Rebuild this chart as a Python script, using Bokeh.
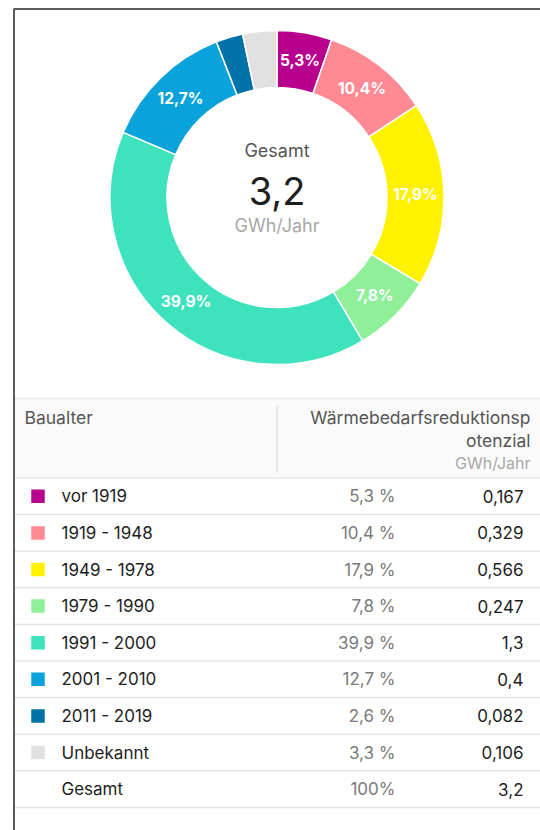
import math
from bokeh.plotting import figure
from bokeh.models import Range1d, ColumnDataSource
from bokeh.core.properties import value
from bokeh.embed import file_html
from bokeh.resources import INLINE

# ---- data ----
categories = ["vor 1919", "1919 - 1948", "1949 - 1978", "1979 - 1990",
              "1991 - 2000", "2001 - 2010", "2011 - 2019", "Unbekannt"]
shares = [5.3, 10.4, 17.9, 7.8, 39.9, 12.7, 2.6, 3.3]
values = [0.167, 0.329, 0.566, 0.247, 1.3, 0.4, 0.082, 0.106]
colors = ["#b8008f", "#ff8a93", "#fff200", "#90f09a", "#3ee2bd", "#0aa2da", "#0072a8", "#e1e1e1"]
total = 3.2
total_label = "Gesamt"
unit = "GWh/Jahr"
col_header_left = "Baualter"
col_header_right = ["Wärmebedarfsreduktionsp", "otenzial"]

FONT = value("Inter")

def de(v):
    return str(v).replace(".", ",")

W, H = 540, 830
p = figure(width=W, height=H, output_backend="svg", toolbar_location=None,
           x_range=Range1d(0, W), y_range=Range1d(-H, 0),
           min_border=0, outline_line_color=None)
p.axis.visible = False
p.grid.visible = False
p.background_fill_color = "white"

# ---- donut ----
cx, cy = 276.5, -197
r_in, r_out = 110, 167
tot = sum(shares)
starts, ends, mids = [], [], []
c = 0.0
for s in shares:
    a0 = c / tot
    c += s
    a1 = c / tot
    starts.append(math.pi / 2 - 2 * math.pi * a1)
    ends.append(math.pi / 2 - 2 * math.pi * a0)
    mids.append(2 * math.pi * (a0 + a1) / 2)
src = ColumnDataSource(dict(start=starts, end=ends, color=colors))
p.annular_wedge(x=cx, y=cy, inner_radius=r_in, outer_radius=r_out,
                start_angle="start", end_angle="end", fill_color="color",
                line_color="white", line_width=1.5, source=src)

rm = (r_in + r_out) / 2
lx, ly, lt = [], [], []
for s, m in zip(shares, mids):
    if s >= 5:
        lx.append(cx + rm * math.sin(m))
        ly.append(cy + rm * math.cos(m))
        lt.append(de(s) + "%")
p.text(x=lx, y=ly, text=lt, text_color="white", text_font=FONT,
       text_font_style="bold", text_font_size="15.5px",
       text_align="center", text_baseline="middle")

p.text(x=[cx], y=[-150], text=[total_label], text_color="#555555", text_font=FONT,
       text_font_size="18px", text_align="center", text_baseline="middle")
p.text(x=[cx], y=[-190], text=[de(total)], text_color="#1e1e1e", text_font=FONT,
       text_font_size="38px", text_align="center", text_baseline="middle")
p.text(x=[cx], y=[-225], text=[unit], text_color="#a8a8a8", text_font=FONT,
       text_font_size="18px", text_align="center", text_baseline="middle")

# ---- frame ----
p.segment(x0=[13.5], y0=[-8], x1=[13.5], y1=[-H], line_color="#5a5a5a", line_width=2)
p.segment(x0=[13.5], y0=[-8.5], x1=[W], y1=[-8.5], line_color="#5a5a5a", line_width=2)

# ---- table header ----
hy0, hy1 = 398, 477.5
p.quad(left=[14.5], right=[W], top=[-hy0], bottom=[-hy1], fill_color="#fafafa", line_color=None)
p.segment(x0=[14.5, 14.5], y0=[-hy0, -hy1], x1=[W, W], y1=[-hy0, -hy1],
          line_color="#e8e8e8", line_width=1.5)
p.segment(x0=[276.5], y0=[-405], x1=[276.5], y1=[-472], line_color="#e3e3e3", line_width=1.5)
p.text(x=[24], y=[-417], text=[col_header_left], text_color="#555555", text_font=FONT,
       text_font_size="17.5px", text_align="left", text_baseline="middle")
p.text(x=[530, 530], y=[-417, -439.5], text=col_header_right, text_color="#555555", text_font=FONT,
       text_font_size="17.5px", text_align="right", text_baseline="middle")
p.text(x=[530], y=[-462], text=[unit], text_color="#a8a8a8", text_font=FONT,
       text_font_size="16px", text_align="right", text_baseline="middle")

# ---- table rows ----
row_h = 36.6
row_top = hy1
n = len(categories)
names = categories + ["Gesamt"]
pcts = [de(s) + " %" for s in shares] + ["100%"]
vals = [de(v) for v in values] + [de(total)]
ys = [-(row_top + row_h * (i + 0.5)) for i in range(n + 1)]
lines_y = [-(row_top + row_h * (i + 1)) for i in range(n + 1)]
p.segment(x0=[14.5] * len(lines_y), y0=lines_y, x1=[W] * len(lines_y), y1=lines_y,
          line_color="#e6e6e6", line_width=1.5)
p.scatter(x=[37.5] * n, y=ys[:n], marker="square", size=13.5, fill_color=colors, line_color=None)
p.text(x=[61] * (n + 1), y=ys, text=names, text_color="#1e1e1e", text_font=FONT,
       text_font_size="17px", text_align="left", text_baseline="middle")
p.text(x=[395] * (n + 1), y=ys, text=pcts, text_color="#7a7a7a", text_font=FONT,
       text_font_size="17px", text_align="right", text_baseline="middle")
p.text(x=[523] * (n + 1), y=ys, text=vals, text_color="#1e1e1e", text_font=FONT,
       text_font_size="17px", text_align="right", text_baseline="middle")

open("out.html", "w").write(file_html(p, INLINE))
